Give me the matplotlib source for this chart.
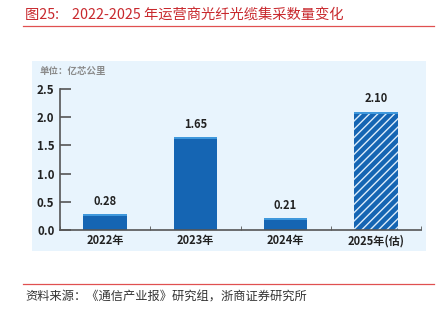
import matplotlib.pyplot as plt
from matplotlib.patches import Rectangle
from matplotlib.lines import Line2D

plt.rcParams['font.family'] = ['Noto Sans CJK SC', 'DejaVu Sans']
plt.rcParams['hatch.linewidth'] = 1.0

years = ['2022年', '2023年', '2024年', '2025年(估)']
values = [0.28, 1.65, 0.21, 2.10]
estimated = [False, False, False, True]
yticks = [0.0, 0.5, 1.0, 1.5, 2.0, 2.5]

title = '图25:    2022-2025 年运营商光纤光缆集采数量变化'
unit = '单位：亿芯公里'
source = '资料来源：《通信产业报》研究组，浙商证券研究所'

red = '#c8282d'
blue = '#1565b3'
cap = '#3f98dc'
dark = '#222222'

fig = plt.figure(figsize=(4.41, 3.26), dpi=100)
W, H = 441, 326

def fx(px): return px / W
def fy(py): return 1 - py / H

# title and red rules
fig.text(fx(25), fy(15), title, color=red, fontsize=10.3, va='center', ha='left')
fig.add_artist(Line2D([fx(23), fx(434)], [fy(26), fy(26)], color='#e05050', lw=0.9))
fig.add_artist(Line2D([fx(23), fx(434)], [fy(284), fy(284)], color='#e05050', lw=0.9))
fig.text(fx(25), fy(297), source, color='#333333', fontsize=8.8, va='center', ha='left')

# light blue panel
fig.add_artist(Rectangle((fx(32), fy(251)), fx(426) - fx(32), fy(61) - fy(251),
                         facecolor='#e8f4fd', edgecolor='none', zorder=0))
fig.text(fx(40), fy(71), unit, color='#8a8a8a', fontsize=6.8, va='center', ha='left',
         fontweight='bold')

ax = fig.add_axes([fx(60), fy(230), fx(421) - fx(60), fy(89) - fy(230)])
ax.patch.set_alpha(0)
x = list(range(len(years)))
for i, (v, est) in enumerate(zip(values, estimated)):
    if est:
        ax.bar(i, v, width=0.48, color=blue, edgecolor='#dcecfa', hatch='////', linewidth=0, zorder=2)
    else:
        ax.bar(i, v, width=0.48, color=blue, linewidth=0, zorder=2)
    ax.bar(i, 0.035, bottom=v - 0.035, width=0.48, color=cap, linewidth=0, zorder=3)
    ax.text(i, v + 0.11, f'{v:.2f}', ha='center', va='bottom', fontsize=8,
            fontweight='bold', color=dark)

ax.set_xlim(-0.5, len(years) - 0.5)
ax.set_ylim(0, 2.5)
ax.set_yticks(yticks)
ax.set_yticklabels([f'{t:.1f}' for t in yticks], fontsize=8.3, fontweight='bold', color=dark)
ax.set_xticks(x)
ax.set_xticklabels(years, fontsize=8, fontweight='bold', color=dark)
ax.tick_params(axis='x', length=0, pad=3)
ax.set_xticks([i - 0.5 for i in range(len(years) + 1)], minor=True)
ax.tick_params(axis='x', which='minor', direction='in', length=3, color='#555555')
ax.tick_params(axis='y', direction='in', length=8, color='#555555', width=1.2, pad=4)
for s in ('top', 'right'):
    ax.spines[s].set_visible(False)
for s in ('left', 'bottom'):
    ax.spines[s].set_color('#555555')
    ax.spines[s].set_linewidth(1.2)

fig.savefig('out.png', dpi=100)
